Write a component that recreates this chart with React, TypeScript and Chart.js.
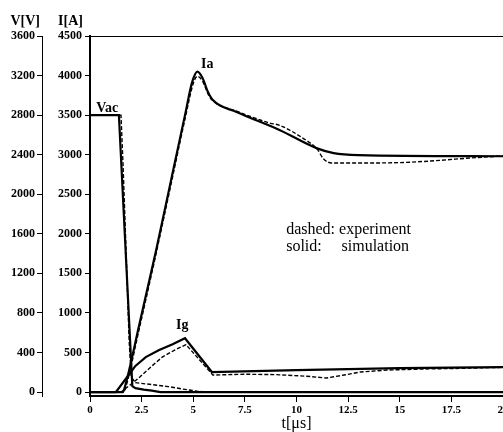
import React, { useEffect, useRef } from 'react';
import { Chart, registerables } from 'chart.js';

Chart.register(...registerables);

// ---- tick labels ----
const X_TICKS = [0, 2.5, 5, 7.5, 10, 12.5, 15, 17.5, 20];
const V_TICKS = [0, 400, 800, 1200, 1600, 2000, 2400, 2800, 3200, 3600];
const I_TICKS = [0, 500, 1000, 1500, 2000, 2500, 3000, 3500, 4000, 4500];

// ---- Vac (V axis) ----
const T_VAC_SIM = [0, 1.4, 2.05, 2.2, 2.6, 3.0, 3.4, 20];
const VAC_SIM = [2800, 2800, 60, 40, 25, 15, 0, 0];
const T_VAC_EXP = [0, 1.5, 1.6, 1.75, 1.9, 2.0, 2.2, 3.0, 3.8, 4.5, 5.2, 5.6, 20];
const VAC_EXP = [2800, 2800, 2300, 1400, 500, 150, 95, 75, 55, 30, 8, 0, 0];

// ---- Ia (I axis) ----
const T_IA_SIM = [0, 1.6, 1.65, 2.4, 3.2, 4.0, 4.6, 4.95, 5.2, 5.45, 5.7, 5.95, 7.1, 9.2, 11.0, 11.8, 13.0, 20];
const IA_SIM = [0, 0, 30, 866, 1790, 2770, 3500, 3920, 4050, 3970, 3800, 3690, 3540, 3310, 3080, 3020, 2995, 2980];
const T_IA_EXP = [0, 1.65, 1.7, 2.4, 3.2, 4.0, 4.6, 5.0, 5.2, 5.45, 5.75, 6.0, 7.1, 8.7, 9.2, 10.3, 11.0, 11.3, 11.7, 13.0, 15.0, 16.5, 18.5, 20];
const IA_EXP = [0, 0, 30, 817, 1750, 2720, 3450, 3900, 3990, 3930, 3750, 3670, 3550, 3400, 3370, 3210, 3070, 2950, 2895, 2895, 2900, 2920, 2960, 2985];

// ---- Ig (I axis) ----
const T_IG_SIM = [0, 1.25, 1.8, 2.2, 2.7, 3.35, 4.0, 4.6, 5.9, 10, 15, 20];
const IG_SIM = [0, 0, 190, 330, 442, 531, 605, 680, 253, 278, 303, 316];
const T_IG_EXP = [0, 1.5, 1.95, 2.35, 3.0, 3.5, 4.1, 4.65, 5.95, 7.5, 9.0, 10.5, 11.45, 12.3, 13.1, 14.4, 16, 18, 20];
const IG_EXP = [0, 0, 90, 175, 330, 442, 530, 600, 215, 225, 220, 200, 177, 215, 253, 278, 290, 300, 312];

// ---- text annotations (anchored in data coordinates) ----
const NOTES = [
  { text: 'Vac', t: 0.3, v: 2830, axis: 'yV', font: 'bold 14px "Liberation Serif"' },
  { text: 'Ia', t: 5.38, v: 4090, axis: 'yI', font: 'bold 14px "Liberation Serif"' },
  { text: 'Ig', t: 4.17, v: 800, axis: 'yI', font: 'bold 14px "Liberation Serif"' },
  { text: 'dashed: experiment', t: 9.5, v: 2000, axis: 'yI', font: '16px "Liberation Serif"' },
  { text: 'solid:', t: 9.5, v: 1785, axis: 'yI', font: '16px "Liberation Serif"' },
  { text: 'simulation', t: 12.18, v: 1785, axis: 'yI', font: '16px "Liberation Serif"' },
];

const pts = (t: number[], y: number[]) => t.map((x, i) => ({ x, y: y[i] }));

const FONT = '"Liberation Serif", "Times New Roman", serif';

const notesPlugin = {
  id: 'notes',
  afterDatasetsDraw(chart: any) {
    const { ctx, chartArea, scales } = chart;
    ctx.save();
    // top frame line
    ctx.strokeStyle = '#000';
    ctx.lineWidth = 1;
    ctx.beginPath();
    ctx.moveTo(chartArea.left, chartArea.top + 0.5);
    ctx.lineTo(chartArea.right, chartArea.top + 0.5);
    ctx.stroke();
    ctx.fillStyle = '#000';
    ctx.textBaseline = 'alphabetic';
    ctx.textAlign = 'left';
    NOTES.forEach((n) => {
      ctx.font = n.font;
      ctx.fillText(n.text, scales.x.getPixelForValue(n.t), scales[n.axis].getPixelForValue(n.v));
    });
    // axis unit headers
    ctx.font = 'bold 14px ' + FONT;
    ctx.textAlign = 'right';
    ctx.fillText('V[V]', scales.yV.right - 2, chartArea.top - 11);
    ctx.fillText('I[A]', scales.yI.right - 7, chartArea.top - 11);
    ctx.restore();
  },
};

const plain = (v: any) => String(v);

export default function App() {
  const ref = useRef<HTMLCanvasElement | null>(null);

  useEffect(() => {
    if (!ref.current) return;
    const solid = { borderColor: '#000', borderWidth: 2.2, pointRadius: 0, tension: 0, fill: false };
    const dashed = { borderColor: '#000', borderWidth: 1.4, borderDash: [4, 2], pointRadius: 0, tension: 0, fill: false };
    const chart = new Chart(ref.current, {
      type: 'line',
      data: {
        datasets: [
          { ...dashed, label: 'Vac exp', data: pts(T_VAC_EXP, VAC_EXP), yAxisID: 'yV' },
          { ...solid, label: 'Vac sim', data: pts(T_VAC_SIM, VAC_SIM), yAxisID: 'yV' },
          { ...dashed, label: 'Ia exp', data: pts(T_IA_EXP, IA_EXP), yAxisID: 'yI', cubicInterpolationMode: 'monotone' },
          { ...solid, label: 'Ia sim', data: pts(T_IA_SIM, IA_SIM), yAxisID: 'yI', cubicInterpolationMode: 'monotone' },
          { ...dashed, label: 'Ig exp', data: pts(T_IG_EXP, IG_EXP), yAxisID: 'yI' },
          { ...solid, label: 'Ig sim', data: pts(T_IG_SIM, IG_SIM), yAxisID: 'yI' },
        ] as any,
      },
      options: {
        animation: false,
        responsive: false,
        devicePixelRatio: 1,
        layout: { padding: { left: 0, right: 37, top: 36, bottom: 0 } },
        plugins: { legend: { display: false }, tooltip: { enabled: false } },
        scales: {
          x: {
            type: 'linear',
            min: 0,
            max: 20,
            afterBuildTicks: (axis: any) => { axis.ticks = X_TICKS.map((v) => ({ value: v })); },
            afterFit: (s: any) => { s.height = 36; },
            ticks: {
              color: '#000',
              font: { family: FONT, size: 11, weight: 'bold' },
              padding: 2,
              maxRotation: 0,
              autoSkip: false,
              callback: plain,
            },
            grid: { drawOnChartArea: false, color: '#000', tickLength: 6 },
            border: { display: true, color: '#000', width: 2 },
            title: {
              display: true,
              text: 't[μs]',
              color: '#000',
              font: { family: FONT, size: 16, lineHeight: 1 },
              padding: 0,
            },
          },
          yI: {
            type: 'linear',
            position: 'left',
            weight: 0,
            min: -50,
            max: 4500,
            afterBuildTicks: (axis: any) => { axis.ticks = I_TICKS.map((v) => ({ value: v })); },
            afterFit: (s: any) => { s.width = 48; },
            ticks: { color: '#000', font: { family: FONT, size: 12, weight: 'bold' }, padding: 3, autoSkip: false, callback: plain },
            grid: { drawOnChartArea: false, color: '#000', tickLength: 5 },
            border: { display: true, color: '#000', width: 2 },
          },
          yV: {
            type: 'linear',
            position: 'left',
            weight: 1,
            min: -40,
            max: 3600,
            afterBuildTicks: (axis: any) => { axis.ticks = V_TICKS.map((v) => ({ value: v })); },
            afterFit: (s: any) => { s.width = 42; },
            ticks: { color: '#000', font: { family: FONT, size: 12, weight: 'bold' }, padding: 2, autoSkip: false, callback: plain },
            grid: { drawOnChartArea: false, color: '#000', tickLength: 5 },
            border: { display: true, color: '#000', width: 1 },
          },
        },
      } as any,
      plugins: [notesPlugin],
    });
    return () => chart.destroy();
  }, []);

  return (
    <div style={{ position: 'fixed', left: 0, top: 0, width: 503, height: 432, overflow: 'hidden', background: '#fff' }}>
      <canvas ref={ref} width={540} height={432} style={{ width: 540, height: 432, display: 'block' }} />
    </div>
  );
}
